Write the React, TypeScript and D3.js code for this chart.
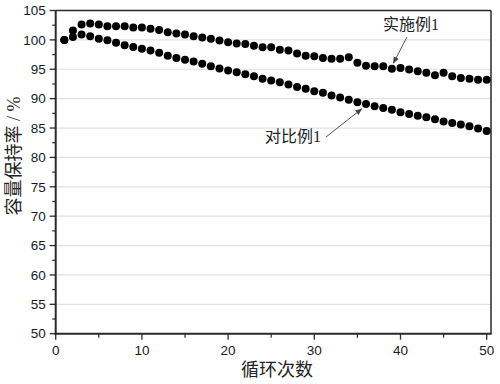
import React from "react";
import * as d3 from "d3";

const cycles: number[] = Array.from({ length: 50 }, (_, i) => i + 1);

const example1: number[] = [
  100.0, 101.6, 102.6, 102.8, 102.6, 102.3, 102.3, 102.3, 102.1, 102.1,
  101.9, 101.7, 101.3, 101.1, 100.9, 100.6, 100.4, 100.2, 99.9, 99.6,
  99.4, 99.3, 99.0, 98.75, 98.75, 98.3, 98.2, 97.7, 97.3, 97.2,
  96.9, 96.8, 96.8, 97.05, 96.1, 95.6, 95.5, 95.5, 95.1, 95.2,
  94.95, 94.65, 94.4, 94.0, 94.4, 93.8, 93.5, 93.4, 93.2, 93.2,
];

const comparative1: number[] = [
  100.0, 100.5, 100.9, 100.6, 100.2, 99.95, 99.5, 99.1, 98.8, 98.5,
  98.2, 97.8, 97.3, 96.9, 96.6, 96.3, 95.95, 95.5, 95.15, 94.8,
  94.5, 94.15, 93.8, 93.4, 93.1, 92.8, 92.4, 92.0, 91.7, 91.25,
  91.0, 90.55, 90.2, 89.8, 89.4, 89.1, 88.7, 88.4, 88.1, 87.7,
  87.4, 87.1, 86.85, 86.5, 86.1, 85.85, 85.6, 85.3, 84.9, 84.5,
];

const xTicks: number[] = [0, 10, 20, 30, 40, 50];
const xMinorTicks: number[] = [5, 15, 25, 35, 45];
const yTicks: number[] = [50, 55, 60, 65, 70, 75, 80, 85, 90, 95, 100, 105];
const yMinorTicks: number[] = [52.5, 57.5, 62.5, 67.5, 72.5, 77.5, 82.5, 87.5, 92.5, 97.5, 102.5];
const seriesNames: string[] = ["实施例1", "对比例1"];
const xTitle = "循环次数";
const yTitle = "容量保持率 / %";

const W = 500;
const H = 384;
const left = 55.7;
const right = 491;
const top = 10.5;
const bottom = 333.7;

export default function App() {
  const x = d3.scaleLinear().domain([0, 50.5]).range([left, right]);
  const y = d3.scaleLinear().domain([50, 105]).range([bottom, top]);

  const tickFont = "'Liberation Sans', Arial, sans-serif";
  const cjkFont = "'Liberation Serif', 'Noto Sans CJK SC', serif";
  const axisColor = "#2a2a2a";

  return (
    <svg
      width={W}
      height={H}
      style={{ position: "absolute", left: 0, top: 0, background: "#fff" }}
    >
      <defs>
        <marker
          id="arrow"
          viewBox="0 0 10 10"
          refX="9"
          refY="5"
          markerWidth="7"
          markerHeight="7"
          orient="auto-start-reverse"
          markerUnits="userSpaceOnUse"
        >
          <path d="M0,1 L10,5 L0,9 Z" fill="#444" />
        </marker>
      </defs>
      <rect x={0} y={0} width={W} height={H} fill="#fff" />
      {yTicks.filter((t) => t > 50 && t < 105).map((t) => (
        <line
          key={"g" + t}
          x1={left}
          x2={right}
          y1={y(t)}
          y2={y(t)}
          stroke="#e2e2e2"
          strokeWidth={1.2}
        />
      ))}
      <line x1={left} x2={right} y1={top} y2={top} stroke={axisColor} strokeWidth={1.5} />
      <line x1={right} x2={right} y1={top} y2={bottom} stroke={axisColor} strokeWidth={1.5} />
      <line x1={left} x2={left} y1={top} y2={bottom + 1} stroke={axisColor} strokeWidth={2} />
      <line x1={left - 1} x2={right + 0.75} y1={bottom} y2={bottom} stroke={axisColor} strokeWidth={2} />
      {yTicks.map((t) => (
        <g key={"yt" + t}>
          <line x1={left - 6} x2={left} y1={y(t)} y2={y(t)} stroke={axisColor} strokeWidth={1.3} />
          <text
            x={left - 10}
            y={y(t)}
            dy="0.35em"
            textAnchor="end"
            fontFamily={tickFont}
            fontSize={13.5}
            fill="#1a1a1a"
          >
            {t}
          </text>
        </g>
      ))}
      {yMinorTicks.map((t) => (
        <line key={"ym" + t} x1={left - 3.5} x2={left} y1={y(t)} y2={y(t)} stroke={axisColor} strokeWidth={1.2} />
      ))}
      {xTicks.map((t) => (
        <g key={"xt" + t}>
          <line x1={x(t)} x2={x(t)} y1={bottom} y2={bottom + 6} stroke={axisColor} strokeWidth={1.3} />
          <text
            x={x(t)}
            y={bottom + 21}
            textAnchor="middle"
            fontFamily={tickFont}
            fontSize={13.5}
            fill="#1a1a1a"
          >
            {t}
          </text>
        </g>
      ))}
      {xMinorTicks.map((t) => (
        <line key={"xm" + t} x1={x(t)} x2={x(t)} y1={bottom} y2={bottom + 4} stroke={axisColor} strokeWidth={1.2} />
      ))}
      {cycles.map((c, i) => (
        <circle key={"a" + c} cx={x(c)} cy={y(example1[i])} r={4} fill="#000" />
      ))}
      {cycles.map((c, i) => (
        <circle key={"b" + c} cx={x(c)} cy={y(comparative1[i])} r={4} fill="#000" />
      ))}
      <text x={411} y={30} textAnchor="middle" fontFamily={cjkFont} fontSize={16} fill="#222">
        {seriesNames[0]}
      </text>
      <line x1={407} y1={37} x2={x(39) + 1.5} y2={y(example1[38]) - 5.5} stroke="#555" strokeWidth={1} markerEnd="url(#arrow)" />
      <text x={293} y={142} textAnchor="middle" fontFamily={cjkFont} fontSize={16} fill="#222">
        {seriesNames[1]}
      </text>
      <line x1={326} y1={137} x2={x(35.5)} y2={y(89.2) + 5.5} stroke="#555" strokeWidth={1} markerEnd="url(#arrow)" />
      <text x={277} y={376} textAnchor="middle" fontFamily={cjkFont} fontSize={18} fill="#222">
        {xTitle}
      </text>
      <text
        transform={`translate(20, 156) rotate(-90)`}
        textAnchor="middle"
        fontFamily={cjkFont}
        fontSize={18}
        fill="#222"
      >
        {yTitle}
      </text>
    </svg>
  );
}
